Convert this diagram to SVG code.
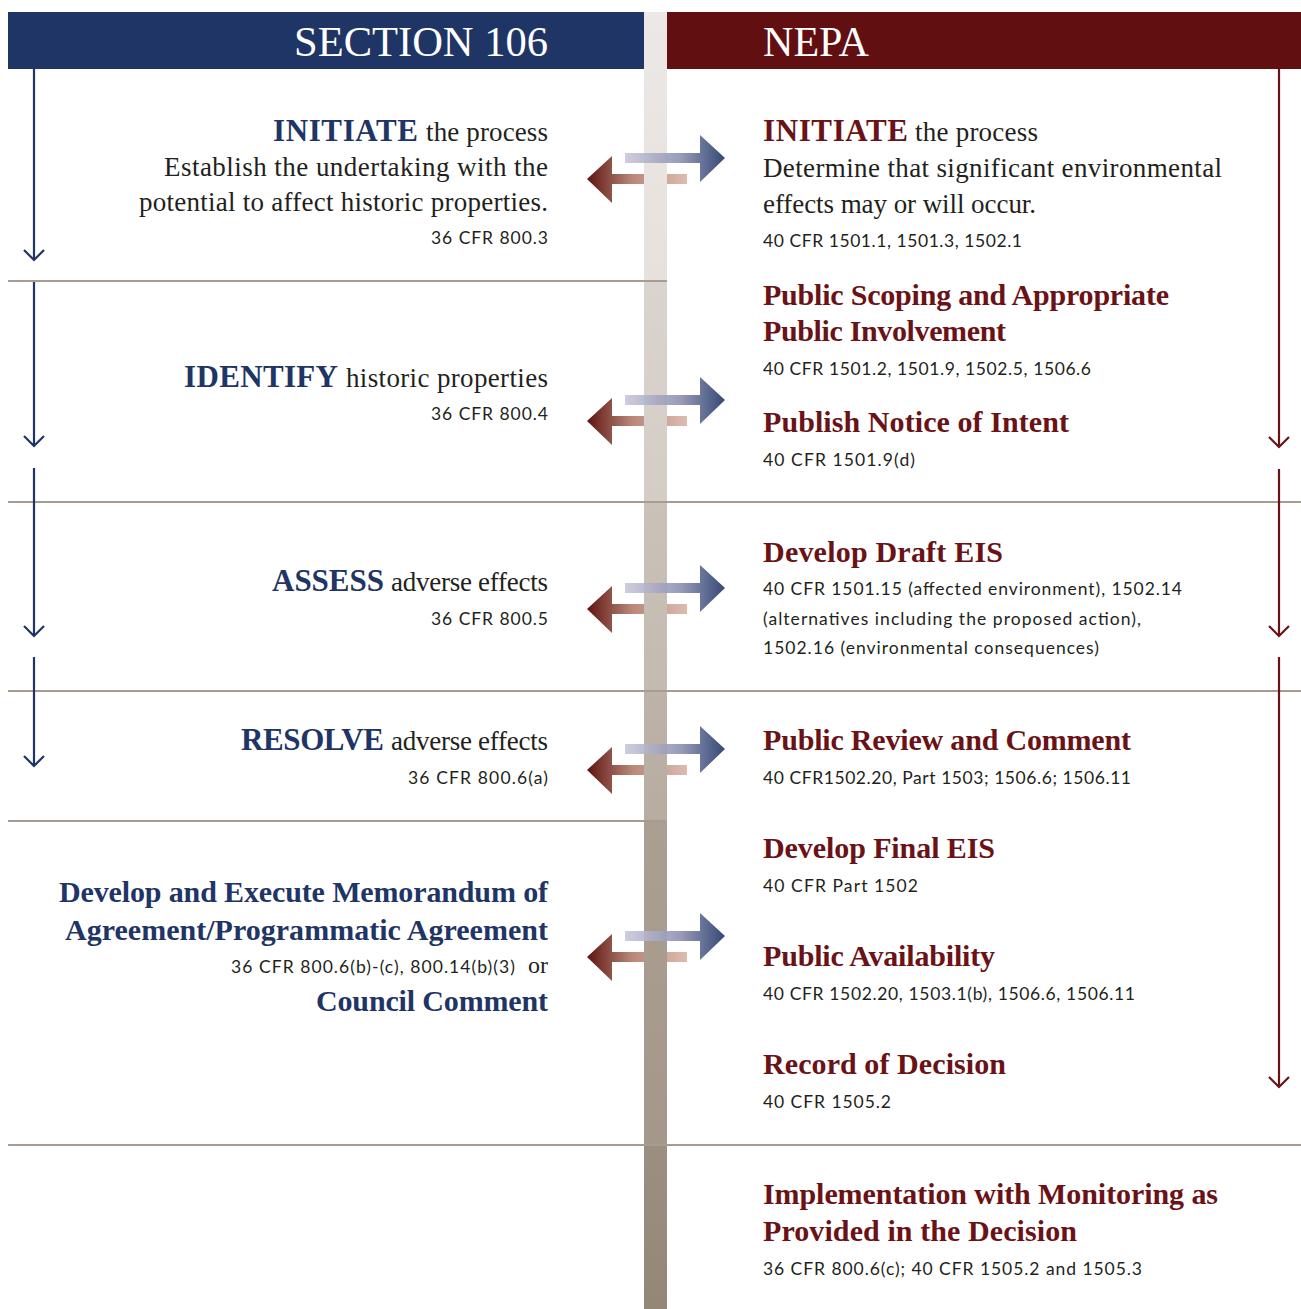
<svg xmlns="http://www.w3.org/2000/svg" width="1301" height="1309" viewBox="0 0 1301 1309">
<defs>
<style>
.hdr{font-family:"Liberation Serif","Times New Roman",serif;font-size:43px;fill:#ffffff}
.kb{font-family:"Liberation Serif","Times New Roman",serif;font-weight:bold;font-size:31px;fill:#1f3566}
.kr{font-family:"Liberation Serif","Times New Roman",serif;font-weight:bold;font-size:31px;fill:#6b1217}
.hb{font-family:"Liberation Serif","Times New Roman",serif;font-weight:bold;font-size:30px;fill:#1f3566}
.hr{font-family:"Liberation Serif","Times New Roman",serif;font-weight:bold;font-size:30px;fill:#6b1217}
.body{font-family:"Liberation Serif","Times New Roman",serif;font-size:27px;fill:#231f20}
.or{font-family:"Liberation Serif","Times New Roman",serif;font-size:24px;fill:#231f20}
.ref{font-family:Lato,"Liberation Sans",Arial,sans-serif;font-size:17.5px;fill:#231f20}
.div{stroke:#a89c91;stroke-width:2;fill:none}
.vb{stroke:#1f3566;stroke-width:2.2;fill:none}
.vr{stroke:#6b1217;stroke-width:2.2;fill:none}
</style>
<linearGradient id="gBlue" x1="625" y1="0" x2="725" y2="0" gradientUnits="userSpaceOnUse">
<stop offset="0" stop-color="#c9c8da"/>
<stop offset="0.55" stop-color="#8e91b3"/>
<stop offset="1" stop-color="#1f3566"/>
</linearGradient>
<linearGradient id="gRed" x1="587" y1="0" x2="687" y2="0" gradientUnits="userSpaceOnUse">
<stop offset="0" stop-color="#5e1410"/>
<stop offset="0.45" stop-color="#b9877a"/>
<stop offset="1" stop-color="#dcbcaf"/>
</linearGradient>
<linearGradient id="b1" x1="0" y1="0" x2="0" y2="1"><stop offset="0" stop-color="#ece8e5"/><stop offset="1" stop-color="#e6e1dd"/></linearGradient>
<linearGradient id="b2" x1="0" y1="0" x2="0" y2="1"><stop offset="0" stop-color="#dad4ce"/><stop offset="1" stop-color="#d4cdc6"/></linearGradient>
<linearGradient id="b3" x1="0" y1="0" x2="0" y2="1"><stop offset="0" stop-color="#cac2b8"/><stop offset="1" stop-color="#c3bab0"/></linearGradient>
<linearGradient id="b4" x1="0" y1="0" x2="0" y2="1"><stop offset="0" stop-color="#bdb3a8"/><stop offset="1" stop-color="#b7aca0"/></linearGradient>
<linearGradient id="b5" x1="0" y1="0" x2="0" y2="1"><stop offset="0" stop-color="#ab9f92"/><stop offset="1" stop-color="#a5988b"/></linearGradient>
<linearGradient id="b6" x1="0" y1="0" x2="0" y2="1"><stop offset="0" stop-color="#9c8f82"/><stop offset="1" stop-color="#958777"/></linearGradient>
<g id="redArrow">
<path d="M587,21 L612,-2 L612,16 L687,16 L687,26 L612,26 L612,45 Z" fill="url(#gRed)"/>
</g>
<g id="blueArrow">
<path d="M625,-5 L700,-5 L700,-23 L725,0 L700,24 L700,5 L625,5 Z" fill="url(#gBlue)" opacity="0.9"/>
</g>
</defs>
<rect width="1301" height="1309" fill="#ffffff"/>

<g id="headers">
<rect x="8" y="12" width="636" height="57" fill="#1f3566"/>
<rect x="667" y="12" width="634" height="57" fill="#620f12"/>
<text class="hdr" x="294" y="56" textLength="254" lengthAdjust="spacingAndGlyphs">SECTION 106</text>
<text class="hdr" x="763" y="56" textLength="106" lengthAdjust="spacingAndGlyphs">NEPA</text>
</g>

<g id="arrows-back">
<use href="#redArrow" transform="translate(0,158)"/>
<use href="#redArrow" transform="translate(0,400)"/>
<use href="#redArrow" transform="translate(0,588)"/>
<use href="#redArrow" transform="translate(0,749)"/>
<use href="#redArrow" transform="translate(0,936)"/>
</g>

<g id="center-bar">
<rect x="644" y="12" width="23" height="269" fill="url(#b1)"/>
<rect x="644" y="281" width="23" height="221" fill="url(#b2)"/>
<rect x="644" y="502" width="23" height="189" fill="url(#b3)"/>
<rect x="644" y="691" width="23" height="130" fill="url(#b4)"/>
<rect x="644" y="821" width="23" height="324" fill="url(#b5)"/>
<rect x="644" y="1145" width="23" height="164" fill="url(#b6)"/>
</g>

<g id="dividers">
<line class="div" x1="8" y1="281" x2="667" y2="281"/>
<line class="div" x1="8" y1="502" x2="1301" y2="502"/>
<line class="div" x1="8" y1="691" x2="1301" y2="691"/>
<line class="div" x1="8" y1="821" x2="667" y2="821"/>
<line class="div" x1="8" y1="1145" x2="1301" y2="1145"/>
</g>

<g id="connectors">
<use href="#blueArrow" transform="translate(0,158)"/>
<use href="#blueArrow" transform="translate(0,400)"/>
<use href="#blueArrow" transform="translate(0,588)"/>
<use href="#blueArrow" transform="translate(0,749)"/>
<use href="#blueArrow" transform="translate(0,936)"/>
<path class="vb" d="M34,69 V260 M24,250 L34,260 L44,250"/>
<path class="vb" d="M34,282 V446 M24,436 L34,446 L44,436"/>
<path class="vb" d="M34,468 V636 M24,626 L34,636 L44,626"/>
<path class="vb" d="M34,657 V766 M24,756 L34,766 L44,756"/>
<path class="vr" d="M1279,69 V447 M1269,437 L1279,447 L1289,437"/>
<path class="vr" d="M1279,469 V636 M1269,626 L1279,636 L1289,626"/>
<path class="vr" d="M1279,657 V1087 M1269,1077 L1279,1087 L1289,1077"/>
</g>

<g id="s106-initiate">
<text class="kb" x="273" y="141" textLength="145" lengthAdjust="spacing">INITIATE</text>
<text class="body" x="426" y="141" textLength="122" lengthAdjust="spacing">the process</text>
<text class="body" x="164" y="176" textLength="384" lengthAdjust="spacing">Establish the undertaking with the</text>
<text class="body" x="139" y="211" textLength="409" lengthAdjust="spacing">potential to affect historic properties.</text>
<text class="ref" x="431" y="244" textLength="117" lengthAdjust="spacing">36 CFR 800.3</text>
</g>

<g id="s106-identify">
<text class="kb" x="184" y="387" textLength="154" lengthAdjust="spacing">IDENTIFY</text>
<text class="body" x="346" y="387" textLength="202" lengthAdjust="spacing">historic properties</text>
<text class="ref" x="431" y="420" textLength="117" lengthAdjust="spacing">36 CFR 800.4</text>
</g>

<g id="s106-assess">
<text class="kb" x="272" y="591" textLength="112" lengthAdjust="spacing">ASSESS</text>
<text class="body" x="391" y="591" textLength="157" lengthAdjust="spacing">adverse effects</text>
<text class="ref" x="431" y="625" textLength="117" lengthAdjust="spacing">36 CFR 800.5</text>
</g>

<g id="s106-resolve">
<text class="kb" x="241" y="750" textLength="143" lengthAdjust="spacing">RESOLVE</text>
<text class="body" x="391" y="750" textLength="157" lengthAdjust="spacing">adverse effects</text>
<text class="ref" x="408" y="784" textLength="140" lengthAdjust="spacing">36 CFR 800.6(a)</text>
</g>

<g id="s106-agreement">
<text class="hb" x="59" y="902" textLength="489" lengthAdjust="spacing">Develop and Execute Memorandum of</text>
<text class="hb" x="65" y="940" textLength="483" lengthAdjust="spacing">Agreement/Programmatic Agreement</text>
<text class="ref" x="231" y="973" textLength="284" lengthAdjust="spacing">36 CFR 800.6(b)-(c), 800.14(b)(3)</text>
<text class="or" x="548" y="973" text-anchor="end">or</text>
<text class="hb" x="316" y="1011" textLength="232" lengthAdjust="spacing">Council Comment</text>
</g>

<g id="nepa-initiate">
<text class="kr" x="763" y="141" textLength="145" lengthAdjust="spacing">INITIATE</text>
<text class="body" x="915" y="141" textLength="123" lengthAdjust="spacing">the process</text>
<text class="body" x="763" y="177" textLength="459" lengthAdjust="spacing">Determine that significant environmental</text>
<text class="body" x="763" y="213" textLength="273" lengthAdjust="spacing">effects may or will occur.</text>
<text class="ref" x="763" y="247" textLength="259" lengthAdjust="spacing">40 CFR 1501.1, 1501.3, 1502.1</text>
</g>

<g id="nepa-scoping">
<text class="hr" x="763" y="305" textLength="406" lengthAdjust="spacing">Public Scoping and Appropriate</text>
<text class="hr" x="763" y="341" textLength="243" lengthAdjust="spacing">Public Involvement</text>
<text class="ref" x="763" y="375" textLength="328" lengthAdjust="spacing">40 CFR 1501.2, 1501.9, 1502.5, 1506.6</text>
</g>

<g id="nepa-noi">
<text class="hr" x="763" y="432" textLength="306" lengthAdjust="spacing">Publish Notice of Intent</text>
<text class="ref" x="763" y="466" textLength="152" lengthAdjust="spacing">40 CFR 1501.9(d)</text>
</g>

<g id="nepa-draft">
<text class="hr" x="763" y="562" textLength="240" lengthAdjust="spacing">Develop Draft EIS</text>
<text class="ref" x="763" y="595" textLength="419" lengthAdjust="spacing">40 CFR 1501.15 (affected environment), 1502.14</text>
<text class="ref" x="763" y="625" textLength="378" lengthAdjust="spacing">(alternatives including the proposed action),</text>
<text class="ref" x="763" y="654" textLength="336" lengthAdjust="spacing">1502.16 (environmental consequences)</text>
</g>

<g id="nepa-review">
<text class="hr" x="763" y="750" textLength="368" lengthAdjust="spacing">Public Review and Comment</text>
<text class="ref" x="763" y="784" textLength="368" lengthAdjust="spacing">40 CFR1502.20, Part 1503; 1506.6; 1506.11</text>
</g>

<g id="nepa-final">
<text class="hr" x="763" y="858" textLength="232" lengthAdjust="spacing">Develop Final EIS</text>
<text class="ref" x="763" y="892" textLength="155" lengthAdjust="spacing">40 CFR Part 1502</text>
</g>

<g id="nepa-availability">
<text class="hr" x="763" y="966" textLength="232" lengthAdjust="spacing">Public Availability</text>
<text class="ref" x="763" y="1000" textLength="372" lengthAdjust="spacing">40 CFR 1502.20, 1503.1(b), 1506.6, 1506.11</text>
</g>

<g id="nepa-rod">
<text class="hr" x="763" y="1074" textLength="243" lengthAdjust="spacing">Record of Decision</text>
<text class="ref" x="763" y="1108" textLength="128" lengthAdjust="spacing">40 CFR 1505.2</text>
</g>

<g id="implementation">
<text class="hr" x="763" y="1204" textLength="455" lengthAdjust="spacing">Implementation with Monitoring as</text>
<text class="hr" x="763" y="1241" textLength="314" lengthAdjust="spacing">Provided in the Decision</text>
<text class="ref" x="763" y="1275" textLength="379" lengthAdjust="spacing">36 CFR 800.6(c); 40 CFR 1505.2 and 1505.3</text>
</g>
</svg>
